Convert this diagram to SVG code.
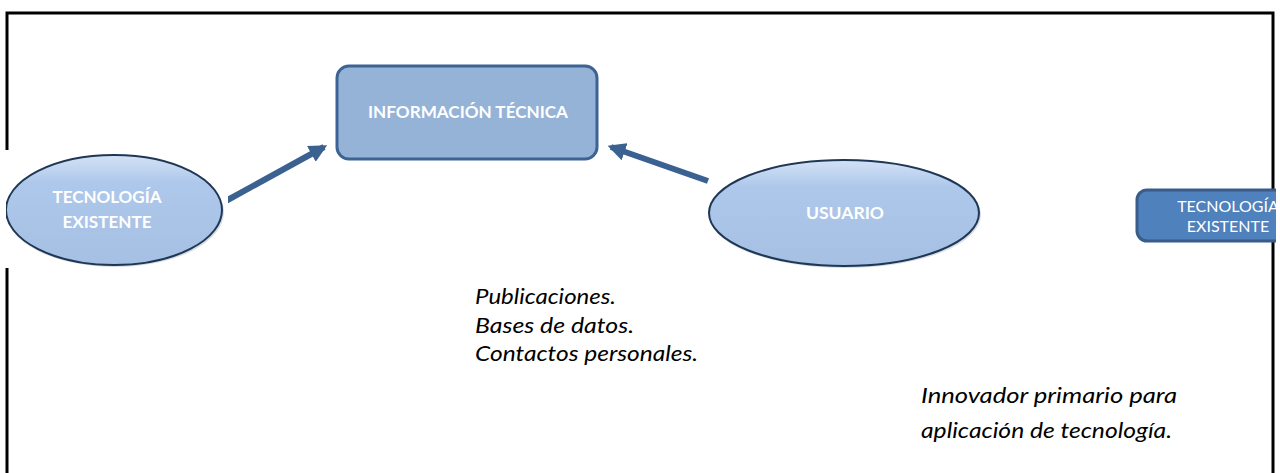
<svg xmlns="http://www.w3.org/2000/svg" width="1280" height="473" viewBox="0 0 1280 473">
<defs>
<style>
.frame{fill:none;stroke:#000;stroke-width:3}
.ell{fill:url(#eg);stroke:#1f3755;stroke-width:2}
.lbl{font-family:Lato,"Liberation Sans",sans-serif;font-weight:bold;fill:#fff;text-anchor:middle;font-size:17px}
.note{font-family:Lato,"Liberation Sans",sans-serif;font-style:italic;font-size:21px;fill:#000}
.conn{stroke:#3b6191;stroke-width:6;fill:none}
</style>
<linearGradient id="eg" x1="0" y1="0" x2="0" y2="1">
<stop offset="0" stop-color="#d3e2f5"/>
<stop offset="0.25" stop-color="#aec8eb"/>
<stop offset="1" stop-color="#a6c0e4"/>
</linearGradient>
<marker id="ah" viewBox="0 0 10 10" refX="8" refY="5" markerWidth="3" markerHeight="3" orient="auto" markerUnits="strokeWidth">
<path d="M0,0 L10,5 L0,10 Z" fill="#3b6191"/>
</marker>
<clipPath id="cl"><rect x="6" y="150" width="222" height="118"/></clipPath>
<clipPath id="cr"><rect x="1100" y="150" width="176" height="120"/></clipPath>
</defs>
<rect width="1280" height="473" fill="#fff"/>
<g id="frame">
<path class="frame" d="M7,150 V13 H1273 V490 M7,268 V490"/>
</g>
<g id="connectors">
<line class="conn" x1="224" y1="202" x2="324" y2="147" marker-end="url(#ah)"/>
<line class="conn" x1="708" y1="181" x2="611" y2="147" marker-end="url(#ah)"/>
</g>
<g id="tecnologia-existente-left">
<rect x="6" y="150" width="222" height="118" fill="#fff"/>
<g clip-path="url(#cl)">
<ellipse cx="115" cy="212" rx="109" ry="55" fill="#8a9bb0" opacity="0.35"/>
<ellipse class="ell" cx="114" cy="210" rx="108" ry="55"/>
</g>
<text class="lbl" x="107" y="203" textLength="109" lengthAdjust="spacingAndGlyphs">TECNOLOGÍA</text>
<text class="lbl" x="107" y="228" textLength="89" lengthAdjust="spacingAndGlyphs">EXISTENTE</text>
</g>
<g id="informacion-tecnica">
<rect x="337" y="66" width="260" height="93" rx="12" fill="#95b3d7" stroke="#3d6394" stroke-width="3"/>
<text class="lbl" x="468" y="118" textLength="200" lengthAdjust="spacingAndGlyphs">INFORMACIÓN TÉCNICA</text>
</g>
<g id="usuario">
<ellipse cx="845" cy="215" rx="136" ry="53" fill="#8a9bb0" opacity="0.35"/>
<ellipse class="ell" cx="844" cy="213" rx="135" ry="53"/>
<text class="lbl" x="845" y="219" textLength="78" lengthAdjust="spacingAndGlyphs">USUARIO</text>
</g>
<g id="tecnologia-existente-right" clip-path="url(#cr)">
<rect x="1137" y="190" width="180" height="51" rx="10" fill="#4f81bd" stroke="#385d8a" stroke-width="3"/>
<text x="1228" y="212" font-family="Lato,'Liberation Sans',sans-serif" font-size="16" fill="#fff" text-anchor="middle">TECNOLOGÍA</text>
<text x="1228" y="232" font-family="Lato,'Liberation Sans',sans-serif" font-size="16" fill="#fff" text-anchor="middle">EXISTENTE</text>
</g>
<g id="notes">
<text class="note" x="475" y="304" textLength="141" lengthAdjust="spacingAndGlyphs">Publicaciones.</text>
<text class="note" x="475" y="333" textLength="159" lengthAdjust="spacingAndGlyphs">Bases de datos.</text>
<text class="note" x="475" y="361" textLength="223" lengthAdjust="spacingAndGlyphs">Contactos personales.</text>
<text class="note" x="921" y="403" textLength="256" lengthAdjust="spacingAndGlyphs">Innovador primario para</text>
<text class="note" x="921" y="438" textLength="251" lengthAdjust="spacingAndGlyphs">aplicación de tecnología.</text>
</g>
</svg>
